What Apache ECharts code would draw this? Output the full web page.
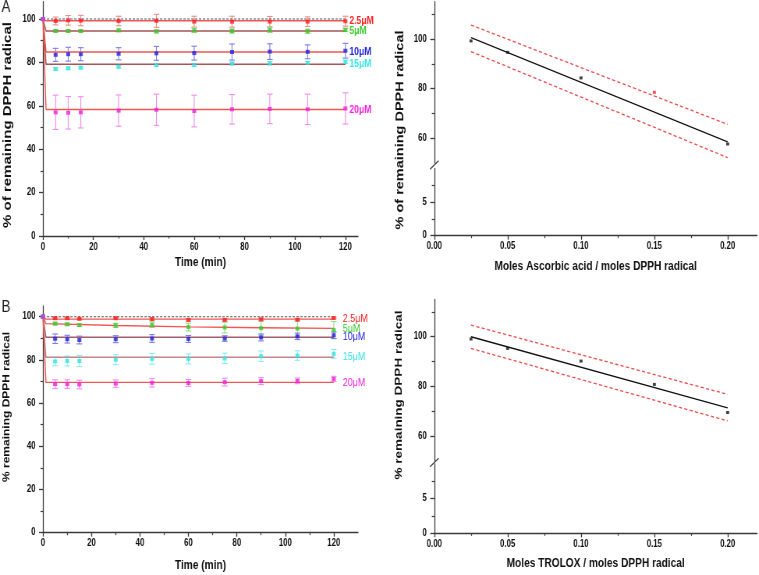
<!DOCTYPE html>
<html><head><meta charset="utf-8">
<script src="https://cdn.jsdelivr.net/npm/echarts@6/dist/echarts.min.js"></script>
<style>
html,body{margin:0;padding:0;background:#fff;overflow:hidden;width:759px;height:575px}
#c{width:973px;height:575px;transform:scaleX(0.78);transform-origin:0 0}
</style>
</head><body><div id="c"></div>
<script>
// ---------------- data ----------------
const times = [0, 5, 10, 15, 30, 45, 60, 75, 90, 105, 120];
const concLabels = ['2.5\u03bcM', '5\u03bcM', '10\u03bcM', '15\u03bcM', '20\u03bcM'];

// Panel A (ascorbic acid kinetics)
const a25 = [100, 99.1, 99.4, 99.3, 99.1, 99.2, 98.8, 98.8, 98.8, 98.8, 99.0];
const a5  = [100, 94.5, 94.5, 94.5, 94.8, 94.3, 94.8, 94.5, 95.0, 94.4, 95.0];
const a10 = [100, 83.5, 83.8, 83.8, 84.0, 84.2, 84.3, 84.8, 85.0, 84.9, 85.4];
const a15 = [100, 77.0, 77.3, 77.6, 78.0, 78.8, 78.8, 79.5, 79.6, 79.8, 80.3];
const a20 = [100, 57.0, 56.8, 57.0, 57.8, 58.2, 57.6, 58.4, 58.6, 58.4, 58.8];
const aE25 = [0, 1.8, 2.2, 2.4, 2.2, 3.0, 2.5, 2.5, 2.4, 2.2, 2.3];
const aE5  = [0, 0.5, 0.5, 0.5, 0.6, 0.7, 1.0, 1.0, 1.2, 1.0, 0.8];
const aE10 = [0, 3.0, 3.2, 3.0, 2.8, 3.2, 3.2, 3.7, 3.6, 3.2, 3.4];
const aE15 = [0, 0.6, 0.6, 0.6, 0.6, 0.6, 0.6, 0.7, 0.8, 0.7, 0.8];
const aE20 = [0, 7.9, 7.5, 7.2, 7.2, 7.2, 7.3, 6.8, 6.8, 7.0, 7.2];
const aFitTimes = [0, 1.2, 120];
const aFit25 = [100, 99.2, 99.2];
const aFit5  = [100, 94.5, 94.5];
const aFit10 = [100, 84.8, 84.8];
const aFit15 = [100, 79.2, 79.2];
const aFit20 = [100, 58.3, 58.3];

// Panel B (TROLOX kinetics)
const b25 = [100, 99.3, 99.3, 99.0, 99.3, 98.9, 98.5, 98.5, 98.8, 98.6, 99.4];
const b5  = [100, 96.8, 96.5, 96.1, 96.0, 96.3, 95.2, 95.0, 94.7, 94.5, 93.8];
const b10 = [100, 89.8, 89.6, 89.2, 89.6, 89.9, 89.7, 89.9, 90.4, 90.9, 91.4];
const b15 = [100, 79.3, 79.5, 79.5, 80.1, 80.5, 80.5, 80.7, 81.7, 82.0, 82.8];
const b20 = [100, 68.8, 68.8, 68.6, 69.0, 69.4, 69.3, 69.7, 70.2, 70.3, 71.2];
const bE25 = [0, 0.4, 0.4, 0.4, 0.4, 0.5, 0.5, 0.5, 0.5, 0.5, 0.4];
const bE5  = [0, 0.6, 0.6, 0.6, 1.0, 1.3, 1.8, 2.5, 3.2, 3.5, 4.0];
const bE10 = [0, 2.2, 1.8, 1.8, 1.6, 1.8, 1.6, 1.3, 1.6, 1.5, 1.5];
const bE15 = [0, 2.0, 2.3, 2.6, 2.3, 2.5, 2.3, 2.4, 2.4, 2.2, 2.0];
const bE20 = [0, 2.0, 2.0, 2.0, 1.7, 2.0, 1.6, 1.8, 1.6, 1.3, 1.2];
const bFitTimes = [0, 1.2, 30, 60, 90, 120];
const bFit25 = [100, 98.9, 98.9, 98.9, 98.9, 98.9];
const bFit5  = [100, 96.8, 95.9, 95.3, 94.9, 94.6];
const bFit10 = [100, 90.5, 90.5, 90.5, 90.5, 90.5];
const bFit15 = [100, 81.2, 81.2, 81.2, 81.2, 81.2];
const bFit20 = [100, 69.6, 69.6, 69.6, 69.6, 69.6];

// Panels C and D (dose-response)
const ratios = [0.025, 0.05, 0.10, 0.15, 0.20];
const cVals = [99.2, 94.6, 84.3, 78.5, 57.7];
const cOutlier = [false, false, false, true, false];
const dVals = [99.1, 95.3, 90.2, 80.8, 69.5];
const fitX = [0.025, 0.20];
const cFit = [100.5, 58.5];
const cUpper = [105.6, 65.6];
const cLower = [94.9, 52.2];
const dFit = [100.0, 71.4];
const dUpper = [104.7, 76.8];
const dLower = [95.3, 66.1];

// tick values
const timeMajor = [0, 20, 40, 60, 80, 100, 120];
const timeMinor = [10, 30, 50, 70, 90, 110];
const pctMajor = [0, 20, 40, 60, 80, 100];
const pctMinor = [10, 30, 50, 70, 90];
const ratioMajor = [0, 0.05, 0.10, 0.15, 0.20];
const ratioMinor = [0.025, 0.075, 0.125, 0.175];
const upperMajor = [60, 80, 100];
const upperMinor = [70, 90, 110];
const lowerMajor = [0, 5];
const lowerMinor = [2.5, 7.5];

// ---------------- styling ----------------
const S = 0.78;                 // horizontal compression of the figure
const gx = v => v / S;
const FF = '"Liberation Sans", Arial, Helvetica, sans-serif';
const colors = ['#ff1f1f', '#3ccc2c', '#2424dc', '#36e4e4', '#ee22dc'];
const errColors = ['#f28a8a', '#8fdc86', '#7c7ce6', '#8aeeee', '#f08cec'];
const fitColors = ['#f25656', '#a85454', '#f25656', '#a85454', '#f25656'];
const fitColorsB = ['#f25656', '#f25656', '#a06070', '#c08888', '#f25656'];
const AX = '#3a3a3a';

const grids = [
  {left: gx(43), width: gx(315), top: 1.7, height: 234.3},      // A
  {left: gx(43), width: gx(315), top: 305.9, height: 226.8},    // B
  {left: gx(434.3), width: gx(322.7), top: 1.7, height: 161.4}, // C upper
  {left: gx(434.3), width: gx(322.7), top: 168.4, height: 67.3},// C lower
  {left: gx(434.3), width: gx(322.7), top: 299.5, height: 161.4},// D upper
  {left: gx(434.3), width: gx(322.7), top: 464, height: 69.3}   // D lower
];

const labelStyle = {fontSize: 10, fontWeight: 'bold', color: '#111', fontFamily: FF};
function xMain(grid, min, max, major, fmt, name, gap) {
  return {type: 'value', gridIndex: grid, min, max, position: 'bottom',
    axisLine: {show: true, onZero: false, lineStyle: {color: AX, width: 1.3}},
    axisTick: {show: true, customValues: major, length: 4, lineStyle: {color: AX, width: 1.3}},
    axisLabel: Object.assign({customValues: major, margin: 6, formatter: fmt}, labelStyle),
    splitLine: {show: false},
    name, nameLocation: 'middle', nameGap: gap,
    nameTextStyle: {fontSize: 13, fontWeight: 'bold', color: '#111', fontFamily: FF}};
}
function xMinor(grid, min, max, minor) {
  return {type: 'value', gridIndex: grid, min, max, position: 'bottom', offset: 0,
    axisLine: {show: false, onZero: false},
    axisTick: {show: true, customValues: minor, length: 2.5, lineStyle: {color: AX, width: 1.2}},
    axisLabel: {show: false}, splitLine: {show: false}};
}
function xHidden(grid, min, max) {
  return {type: 'value', gridIndex: grid, min, max, show: false, splitLine: {show: false}};
}
function yMain(grid, min, max, major) {
  return {type: 'value', gridIndex: grid, min, max, position: 'left', offset: 0,
    axisLine: {show: true, onZero: false, lineStyle: {color: AX, width: 1.3}},
    axisTick: {show: true, customValues: major, length: gx(4), lineStyle: {color: AX, width: 1.3}},
    axisLabel: Object.assign({customValues: major, margin: gx(7.5)}, labelStyle),
    splitLine: {show: false}};
}
function yMinor(grid, min, max, minor) {
  return {type: 'value', gridIndex: grid, min, max, position: 'left', offset: 0,
    axisLine: {show: false, onZero: false},
    axisTick: {show: true, customValues: minor, length: gx(2.5), lineStyle: {color: AX, width: 1.2}},
    axisLabel: {show: false}, splitLine: {show: false}};
}

const xAxes = [
  xMain(0, 0, 125, timeMajor, v => v, 'Time (min)', 20),   // 0
  xMinor(0, 0, 125, timeMinor),                            // 1
  xMain(1, 0, 130, timeMajor, v => v, 'Time (min)', 26),   // 2
  xMinor(1, 0, 130, timeMinor),                            // 3
  xHidden(2, 0, 0.22),                                     // 4
  xMain(3, 0, 0.22, ratioMajor, v => v.toFixed(2), 'Moles Ascorbic acid / moles DPPH radical', 24), // 5
  xMinor(3, 0, 0.22, ratioMinor),                          // 6
  xHidden(4, 0, 0.22),                                     // 7
  xMain(5, 0, 0.22, ratioMajor, v => v.toFixed(2), 'Moles TROLOX / moles DPPH radical', 24),        // 8
  xMinor(5, 0, 0.22, ratioMinor)                           // 9
];
const yAxes = [
  yMain(0, 0, 108, pctMajor), yMinor(0, 0, 108, pctMinor),        // 0,1
  yMain(1, 0, 105, pctMajor), yMinor(1, 0, 105, pctMinor),        // 2,3
  yMain(2, 50, 115, upperMajor), yMinor(2, 50, 115, upperMinor),  // 4,5
  yMain(3, 0, 10, lowerMajor), yMinor(3, 0, 10, lowerMinor),      // 6,7
  yMain(4, 50, 115, upperMajor), yMinor(4, 50, 115, upperMinor),  // 8,9
  yMain(5, 0, 10, lowerMajor), yMinor(5, 0, 10, lowerMinor)       // 10,11
];

function errorSeries(xi, yi, vals, errs, color) {
  return {type: 'custom', xAxisIndex: xi, yAxisIndex: yi, z: 2, silent: true,
    data: times.map((t, i) => [t, vals[i] - errs[i], vals[i] + errs[i]]),
    encode: {x: 0, y: [1, 2]},
    renderItem: (params, api) => {
      const lo = api.value(1), hi = api.value(2);
      if (hi - lo <= 0) return {type: 'group', children: []};
      const p1 = api.coord([api.value(0), lo]);
      const p2 = api.coord([api.value(0), hi]);
      const w = gx(2.8);
      const st = {stroke: color, lineWidth: 1.1};
      return {type: 'group', children: [
        {type: 'line', shape: {x1: p1[0], y1: p1[1], x2: p2[0], y2: p2[1]}, style: st},
        {type: 'line', shape: {x1: p1[0] - w, y1: p1[1], x2: p1[0] + w, y2: p1[1]}, style: st},
        {type: 'line', shape: {x1: p2[0] - w, y1: p2[1], x2: p2[0] + w, y2: p2[1]}, style: st}
      ]};
    }};
}
function pointSeries(xi, yi, vals, color) {
  return {type: 'scatter', xAxisIndex: xi, yAxisIndex: yi, z: 4, symbol: 'rect',
    symbolSize: [gx(4), 4], itemStyle: {color},
    data: times.map((t, i) => [t, vals[i]])};
}
function fitSeries(xi, yi, ft, vals, color, label, labelColor, bold, dist) {
  return {type: 'line', xAxisIndex: xi, yAxisIndex: yi, z: 3, symbol: 'none',
    lineStyle: {color, width: 1.4},
    data: ft.map((t, i) => [t, vals[i]]),
    endLabel: {show: true, formatter: label, color: labelColor, fontSize: bold ? 11 : 11.5,
      fontWeight: bold ? 'bold' : 'normal', fontFamily: FF, distance: gx(dist)}};
}
function refLine(xi, yi) {
  return {type: 'line', xAxisIndex: xi, yAxisIndex: yi, z: 3, symbol: 'none',
    lineStyle: {color: '#555', width: 1.1, type: [3, 2]},
    data: [[0, 100], [120, 100]]};
}

const series = [];
const aVals = [a25, a5, a10, a15, a20], aErrs = [aE25, aE5, aE10, aE15, aE20];
const aFits = [aFit25, aFit5, aFit10, aFit15, aFit20];
const bVals = [b25, b5, b10, b15, b20], bErrs = [bE25, bE5, bE10, bE15, bE20];
const bFits = [bFit25, bFit5, bFit10, bFit15, bFit20];
series.push(refLine(0, 0));
series.push(refLine(2, 2));
for (let i = 0; i < 5; i++) {
  series.push(fitSeries(0, 0, aFitTimes, aFits[i], fitColors[i], concLabels[i], colors[i], true, 4));
  series.push(errorSeries(0, 0, aVals[i], aErrs[i], errColors[i]));
  series.push(pointSeries(0, 0, aVals[i], colors[i]));
  series.push(fitSeries(2, 2, bFitTimes, bFits[i], fitColorsB[i], concLabels[i], colors[i], false, 9));
  series.push(errorSeries(2, 2, bVals[i], bErrs[i], errColors[i]));
  series.push(pointSeries(2, 2, bVals[i], colors[i]));
}
function bandLine(xi, yi, vals, dashed) {
  return {type: 'line', xAxisIndex: xi, yAxisIndex: yi, symbol: 'none', z: 3,
    lineStyle: dashed ? {color: '#f04848', width: 1.3, type: [4, 3]} : {color: '#111', width: 1.3},
    data: fitX.map((x, i) => [x, vals[i]])};
}
series.push(bandLine(4, 4, cUpper, true), bandLine(4, 4, cLower, true), bandLine(4, 4, cFit, false));
series.push({type: 'scatter', xAxisIndex: 4, yAxisIndex: 4, z: 4, symbol: 'rect', symbolSize: [gx(3), 3],
  data: ratios.map((x, i) => ({value: [x, cVals[i]], itemStyle: {color: cOutlier[i] ? '#ff2020' : '#111'}}))});
series.push(bandLine(7, 8, dUpper, true), bandLine(7, 8, dLower, true), bandLine(7, 8, dFit, false));
series.push({type: 'scatter', xAxisIndex: 7, yAxisIndex: 8, z: 4, symbol: 'rect', symbolSize: [gx(3), 3],
  itemStyle: {color: '#111'}, data: ratios.map((x, i) => [x, dVals[i]])});

function yTitle(x, y, text, size) {
  return {type: 'text', x: gx(x), y, rotation: Math.PI / 2,
    style: {text, fill: '#111', font: 'bold ' + size + 'px ' + FF, align: 'center', verticalAlign: 'middle'}};
}
function breakMark(x, y) {
  return {type: 'line', shape: {x1: gx(x - 4.3), y1: y + 4.2, x2: gx(x + 4.3), y2: y - 4.2},
    style: {stroke: AX, lineWidth: 1.3}};
}
const graphics = [
  {type: 'text', x: gx(1.5), y: -1, style: {text: 'A', fill: '#222', font: '17px ' + FF}},
  {type: 'text', x: gx(1.5), y: 299, style: {text: 'B', fill: '#222', font: '17px ' + FF}},
  yTitle(8, 125, '% of remaining DPPH radical', 15),
  yTitle(400, 130, '% of remaining DPPH radical', 14.5),
  yTitle(7, 407, '% remaining DPPH radical', 12),
  yTitle(398.5, 395, '% remaining DPPH radical', 13.5),
  breakMark(434.3, 165),
  breakMark(434.3, 462.5)
];

const chart = echarts.init(document.getElementById('c'), null, {renderer: 'canvas'});
chart.setOption({
  animation: false,
  backgroundColor: '#fff',
  grid: grids,
  xAxis: xAxes,
  yAxis: yAxes,
  series,
  graphic: graphics
});
</script></body></html>
